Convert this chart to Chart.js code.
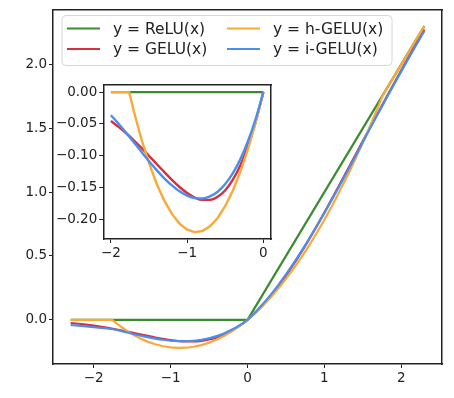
<!DOCTYPE html>
<html>
<head>
<meta charset="utf-8">
<script src="https://cdn.jsdelivr.net/npm/chart.js@4.4.1/dist/chart.umd.min.js"></script>
<style>
  html, body { margin: 0; padding: 0; background: #fff; }
  #wrap { position: relative; width: 454px; height: 398px; }
  #main { display: block; }
  #inset { position: absolute; left: 50px; top: 75px; }
</style>
</head>
<body>
<div id="wrap">
  <canvas id="main" width="454" height="398"></canvas>
  <canvas id="inset" width="228" height="185"></canvas>
</div>
<script>
'use strict';

// x grid for the smooth curves
var xs = [-2.3, -2.2, -2.1, -2.0, -1.9, -1.8, -1.7, -1.6, -1.5, -1.4, -1.3, -1.2,
  -1.1, -1.0, -0.9, -0.8, -0.7, -0.6, -0.5, -0.4, -0.3, -0.2, -0.1, 0,
  0.1, 0.2, 0.3, 0.4, 0.5, 0.6, 0.7, 0.8, 0.9, 1.0, 1.1, 1.2,
  1.3, 1.4, 1.5, 1.6, 1.7, 1.8, 1.9, 2.0, 2.1, 2.2, 2.3];

var gelu = [-0.0247, -0.0306, -0.0375, -0.0455, -0.0546, -0.0647, -0.0758, -0.0877, -0.1002, -0.1131, -0.1258, -0.1381,
  -0.1492, -0.1587, -0.1657, -0.1695, -0.1694, -0.1646, -0.1543, -0.1378, -0.1146, -0.0841, -0.0460, 0,
  0.0540, 0.1159, 0.1854, 0.2622, 0.3457, 0.4354, 0.5306, 0.6305, 0.7343, 0.8413, 0.9508, 1.0619,
  1.1742, 1.2869, 1.3998, 1.5123, 1.6242, 1.7353, 1.8454, 1.9545, 2.0625, 2.1694, 2.2753];

var igelu = [-0.041, -0.046, -0.052, -0.058, -0.064, -0.070, -0.080, -0.094, -0.1087, -0.1227, -0.1356, -0.1468,
  -0.1561, -0.1628, -0.1667, -0.1673, -0.1641, -0.1567, -0.1446, -0.1276, -0.1050, -0.0765, -0.0416, 0,
  0.0584, 0.1235, 0.1950, 0.2724, 0.3554, 0.4433, 0.5359, 0.6327, 0.7333, 0.8372, 0.9439, 1.0532,
  1.1644, 1.2773, 1.3913, 1.506, 1.618, 1.728, 1.838, 1.946, 2.053, 2.158, 2.262];

// h-GELU is piecewise, so it has its own x points (kinks near -1.76 and 1.76)
var hx = [-2.3, -2.0, -1.76, -1.7, -1.6, -1.5, -1.4, -1.3, -1.2, -1.1, -1.0, -0.9, -0.8, -0.7, -0.6,
  -0.5, -0.4, -0.3, -0.2, -0.1, 0, 0.1, 0.2, 0.3, 0.4, 0.5, 0.6, 0.7, 0.8, 0.9, 1.0,
  1.1, 1.2, 1.3, 1.4, 1.5, 1.6, 1.7, 1.76, 2.3];
var hgelu = [0, 0, 0, -0.0302, -0.0738, -0.1118, -0.1440, -0.1706, -0.1915, -0.2068, -0.2163, -0.2202, -0.2185, -0.2110, -0.1979,
  -0.1791, -0.1546, -0.1245, -0.0887, -0.0472, 0, 0.0528, 0.1113, 0.1755, 0.2454, 0.3209, 0.4021, 0.4890, 0.5815, 0.6798, 0.7837,
  0.8932, 1.0085, 1.1294, 1.2560, 1.3883, 1.5262, 1.6698, 1.76, 2.3];

var reluX = [-2.3, -2.0, 0, 2.3];
var relu = [0, 0, 0, 2.3];

// inset (zoom on -2..0): i-GELU
var insetXs = [-2.0, -1.9, -1.8, -1.7, -1.6, -1.5, -1.4, -1.3, -1.2, -1.1, -1.0,
  -0.9, -0.8, -0.7, -0.6, -0.5, -0.4, -0.3, -0.2, -0.1, 0];
var igeluInset = [-0.0364, -0.0497, -0.0640, -0.0789, -0.0939, -0.1087, -0.1227, -0.1356, -0.1468, -0.1561, -0.1628,
  -0.1667, -0.1673, -0.1641, -0.1567, -0.1446, -0.1276, -0.1050, -0.0765, -0.0416, 0];

var labels = ['y = ReLU(x)', 'y = GELU(x)', 'y = h-GELU(x)', 'y = i-GELU(x)'];
var colors = ['#3a8c2f', '#d62f3d', '#f9a83a', '#4a8ef0'];

var mainXTicks = [-2, -1, 0, 1, 2];
var mainYTicks = [0, 0.5, 1.0, 1.5, 2.0];
var insetXTicks = [-2, -1, 0];
var insetYTicks = [0, -0.05, -0.10, -0.15, -0.20];

Chart.defaults.font.family = "'DejaVu Sans', sans-serif";
Chart.defaults.animation = false;

function pts(xArr, yArr, lo, hi) {
  var out = [];
  xArr.forEach(function (x, i) {
    if (lo === undefined || (x >= lo - 1e-9 && x <= hi + 1e-9)) out.push({x: x, y: yArr[i]});
  });
  return out;
}

function fmt(d) {
  return function (v) {
    var s = Math.abs(v).toFixed(d);
    return (v < -1e-9 ? '\u2212' : '') + s;
  };
}

function scale(min, max, ticks, d, size) {
  return {
    type: 'linear',
    min: min,
    max: max,
    afterBuildTicks: function (a) { a.ticks = ticks.map(function (v) { return {value: v}; }); },
    ticks: {callback: fmt(d), color: '#222', font: {size: 13.5}, padding: 2, maxRotation: 0, autoSkip: false},
    grid: {drawOnChartArea: false, drawTicks: true, tickLength: 4, tickColor: '#222', tickWidth: 1},
    border: {display: true, color: '#222', width: 1.5},
    afterFit: function (s) {
      if (s.isHorizontal()) s.height = size; else s.width = size;
    }
  };
}

// empty axis used only for the top / right spine
function spine(pos, min, max) {
  return {
    type: 'linear',
    position: pos,
    min: min,
    max: max,
    ticks: {display: false},
    grid: {display: false},
    border: {display: true, color: '#222', width: 1.5},
    afterFit: function (s) {
      if (s.isHorizontal()) s.height = 0; else s.width = 0;
    }
  };
}

function ds(i, data, lw, smooth) {
  return {
    label: labels[i],
    data: data,
    borderColor: colors[i],
    backgroundColor: colors[i],
    borderWidth: lw,
    pointRadius: 0,
    fill: false,
    tension: 0,
    cubicInterpolationMode: smooth ? 'monotone' : 'default',
    order: 4 - i
  };
}

// white axes background
var axesBg = {
  id: 'axesBg',
  beforeDraw: function (chart) {
    var a = chart.chartArea, c = chart.ctx;
    c.save();
    c.fillStyle = '#fff';
    c.fillRect(a.left, a.top, a.right - a.left, a.bottom - a.top);
    c.restore();
  }
};

// legend drawn inside the axes, two columns like matplotlib
var insideLegend = {
  id: 'insideLegend',
  afterDraw: function (chart) {
    var c = chart.ctx;
    c.save();
    var bx = 62, by = 15.5, bw = 330, bh = 50, r = 4;
    c.beginPath();
    c.moveTo(bx + r, by);
    c.arcTo(bx + bw, by, bx + bw, by + bh, r);
    c.arcTo(bx + bw, by + bh, bx, by + bh, r);
    c.arcTo(bx, by + bh, bx, by, r);
    c.arcTo(bx, by, bx + bw, by, r);
    c.closePath();
    c.fillStyle = 'rgba(255,255,255,0.85)';
    c.fill();
    c.strokeStyle = '#d6d6d6';
    c.lineWidth = 1;
    c.stroke();

    var cols = [67, 227], rows = [28.5, 49];
    c.font = "15.5px 'DejaVu Sans', sans-serif";
    c.textBaseline = 'middle';
    c.fillStyle = '#222';
    labels.forEach(function (t, i) {
      var cx = cols[Math.floor(i / 2)], cy = rows[i % 2];
      c.beginPath();
      c.moveTo(cx, cy);
      c.lineTo(cx + 33, cy);
      c.strokeStyle = colors[i];
      c.lineWidth = 2;
      c.stroke();
      c.fillText(t, cx + 46, cy + 1);
    });
    c.restore();
  }
};

new Chart(document.getElementById('main').getContext('2d'), {
  type: 'line',
  data: {
    datasets: [
      ds(0, pts(reluX, relu), 2.2, false),
      ds(1, pts(xs, gelu), 2.2, true),
      ds(2, pts(hx, hgelu), 2.2, false),
      ds(3, pts(xs, igelu), 2.2, true)
    ]
  },
  options: {
    responsive: false,
    parsing: false,
    layout: {padding: {left: 0, top: 7, right: 12, bottom: 0}},
    plugins: {legend: {display: false}, tooltip: {enabled: false}},
    scales: {
      x: scale(-2.53, 2.53, mainXTicks, 0, 34),
      y: scale(-0.346, 2.426, mainYTicks, 1, 53),
      xTop: spine('top', -2.53, 2.53),
      yRight: spine('right', -0.346, 2.426)
    }
  },
  plugins: [axesBg, insideLegend]
});

new Chart(document.getElementById('inset').getContext('2d'), {
  type: 'line',
  data: {
    datasets: [
      ds(0, pts(reluX, relu, -2, 0), 2.4, false),
      ds(1, pts(xs, gelu, -2, 0), 2.4, true),
      ds(2, pts(hx, hgelu, -2, 0), 2.4, false),
      ds(3, pts(insetXs, igeluInset), 2.4, true)
    ]
  },
  options: {
    responsive: false,
    parsing: false,
    layout: {padding: {left: 0, top: 10, right: 7, bottom: 0}},
    plugins: {legend: {display: false}, tooltip: {enabled: false}},
    scales: {
      x: scale(-2.1, 0.1, insetXTicks, 0, 21),
      y: scale(-0.231, 0.011, insetYTicks, 2, 53.3),
      xTop: spine('top', -2.1, 0.1),
      yRight: spine('right', -0.231, 0.011)
    }
  },
  plugins: [axesBg]
});
</script>
</body>
</html>
